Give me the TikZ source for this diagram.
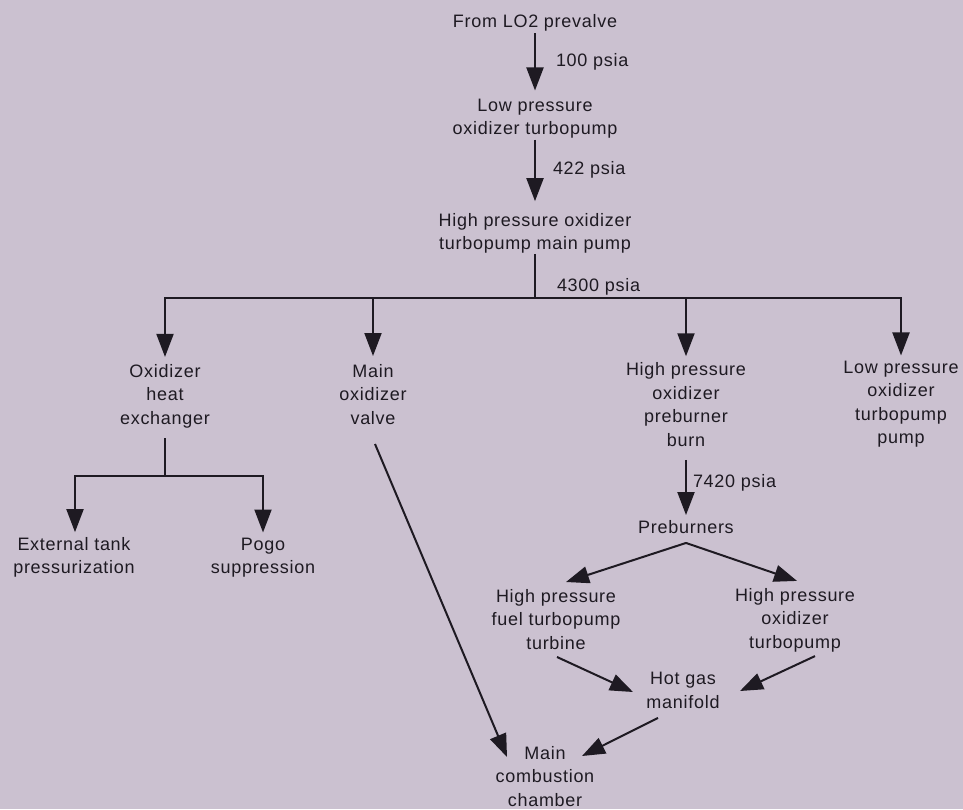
\documentclass[tikz,border=0pt]{standalone}
\usepackage{fontspec}
\setmainfont[LetterSpace=4]{Liberation Sans}
\usetikzlibrary{arrows.meta,calc}
\definecolor{paper}{RGB}{203,193,208}
\definecolor{ink}{RGB}{30,26,34}
\newcommand{\labstrut}{\rule[-3.55pt]{0pt}{23.5pt}}
\begin{document}
\begin{tikzpicture}[x=1pt,y=-1pt,
  lab/.style={align=center, inner sep=0pt, font=\fontsize{18}{23.5}\selectfont, text=ink,
    execute at begin node=\labstrut, execute at end node=\labstrut},
  psi/.style={inner sep=0pt, anchor=west, yshift=-3pt, font=\fontsize{18}{23.5}\selectfont, text=ink},
  conn/.style={draw=ink, line width=2pt},
  tip/.tip={Triangle[width=17pt,length=23pt]},
  arr/.style={conn, -tip},
]
\fill[paper] (0,0) rectangle (963,809);
\useasboundingbox (0,0) rectangle (963,809);

% nodes
\node[lab] (from) at (535,19) {From LO2 prevalve};
\node[lab] (lp) at (535,118.5) {Low pressure\\oxidizer turbopump};
\node[lab] (hpm) at (535,233.5) {High pressure oxidizer\\turbopump main pump};
\node[lab] (ohe) at (165,396) {Oxidizer\\heat\\exchanger};
\node[lab] (mov) at (373,396) {Main\\oxidizer\\valve};
\node[lab] (hpb) at (686,406) {High pressure\\oxidizer\\preburner\\burn};
\node[lab] (lpp) at (901,404) {Low pressure\\oxidizer\\turbopump\\pump};
\node[lab] (ext) at (74,557.5) {External tank\\pressurization};
\node[lab] (pogo) at (263,557.5) {Pogo\\suppression};
\node[lab] (pre) at (686,525) {Preburners};
\node[lab] (hpf) at (556,621) {High pressure\\fuel turbopump\\turbine};
\node[lab] (hpo) at (795,620) {High pressure\\oxidizer\\turbopump};
\node[lab] (hot) at (683,692) {Hot gas\\manifold};
\node[lab] (mcc) at (545,778) {Main\\combustion\\chamber};

% junctions
\coordinate (bar) at (535,298);
\coordinate (barL) at (165,298);
\coordinate (barR) at (901,298);
\coordinate (split) at (165,476);
\coordinate (splitL) at (75,476);
\coordinate (splitR) at (263,476);

% connectors
\draw[arr] ($(from.south)+(0,2)$) -- ($(lp.north)+(0,-8)$)
  node[psi,pos=0.45,xshift=20pt] {100 psia};
\draw[arr] ($(lp.south)+(0,1)$) -- ($(hpm.north)+(0,-12)$)
  node[psi,pos=0.45,xshift=17pt] {422 psia};
\draw[conn] (hpm.south) -- (bar)
  node[psi,pos=0.68,xshift=21pt] {4300 psia};
\draw[conn, line cap=rect] (barL) -- (barR);
\draw[arr] (barL) -- ($(barL |- ohe.north)+(0,-7)$);
\draw[arr] (mov.north |- bar) -- ($(mov.north)+(0,-8)$);
\draw[arr] (hpb.north |- bar) -- ($(hpb.north)+(0,-6)$);
\draw[arr] (barR) -- ($(barR |- lpp.north)+(0,-5)$);

\draw[conn] ($(ohe.south)+(0,10)$) -- (split);
\draw[conn, line cap=rect] (splitL) -- (splitR);
\draw[arr] (splitL) -- ($(splitL |- ext.north)+(0,-5)$);
\draw[arr] (splitR) -- ($(splitR |- pogo.north)+(0,-5)$);

\draw[arr] ($(mov.south)+(2,16)$) -- ($(mcc.center)+(-38,-21)$);

\draw[arr] ($(hpb.south)+(0,10)$) -- ($(pre.north)+(0,2)$)
  node[psi,pos=0.37,xshift=6pt] {7420 psia};
\draw[conn, tip-tip, line join=round] ($(hpf.north)+(10,-7)$) -- ($(pre.south)+(0,6)$) -- ($(hpo.north)+(2,-7)$);

\draw[arr] ($(hpf.south)+(1,4)$) -- ($(hot.center)+(-50,0)$);
\draw[arr] ($(hpo.south)+(20,4)$) -- ($(hot.center)+(57,-1)$);
\draw[arr] ($(hot.south)+(-25,6)$) -- ($(mcc.center)+(37,-22)$);
\end{tikzpicture}
\end{document}
